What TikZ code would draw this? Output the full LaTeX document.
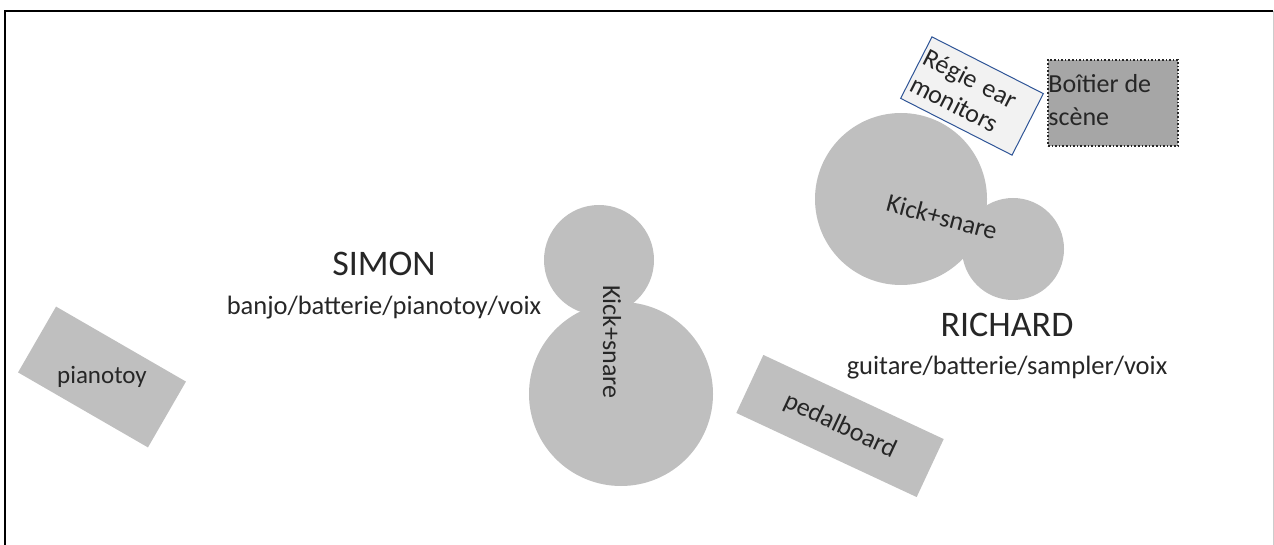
\documentclass[tikz,border=0pt]{standalone}
\usepackage{fontspec}
\setmainfont{Carlito}
\usetikzlibrary{positioning}
\definecolor{drumgrey}{HTML}{BFBFBF}
\definecolor{boxgrey}{HTML}{A6A6A6}
\definecolor{paper}{HTML}{F2F2F2}
\definecolor{edgeblue}{HTML}{2F5597}
\definecolor{ink}{HTML}{262626}
\tikzset{
    on grid,
    node distance=38pt,
    drum/.style = {
        shape=circle,
        fill=drumgrey,
        inner sep=0pt
    },
    gear/.style = {
        shape=rectangle,
        fill=drumgrey,
        inner sep=0pt
    },
    player/.style = {
        font=\fontsize{36}{42}\selectfont,
        text=ink,
        inner sep=0pt
    },
    role/.style = {
        font=\fontsize{26.5}{31}\selectfont,
        text=ink,
        inner sep=0pt
    },
    tag/.style = {
        font=\fontsize{26}{33}\selectfont,
        text=ink,
        inner sep=0pt
    },
}
\begin{document}
\begin{tikzpicture}[x=1pt, y=-1pt]
    \useasboundingbox (0,0) rectangle (1274,545);
    \coordinate (framebl) at (5,545);
    \coordinate (frametl) at (5,11);
    \coordinate (frametr) at (1273,11);
    \coordinate (framebr) at (1273,545);
    \draw[line width=2.2pt] (framebl) -- (frametl) -- (frametr);
    \draw[line width=1pt, black!20] (frametr) -- (framebr);

    % Simon
    \node[drum, minimum size=110pt] (simonsnare) at (599,260) {};
    \node[drum, minimum size=184pt] (simonkick) at (621,394) {};
    \node[tag, rotate=-90] (simonkit) at (612,342) {Kick+snare};
    \node[gear, rotate=-30, minimum width=150pt, minimum height=76pt] (pianotoy) at (102,377) {};
    \node[tag, font=\fontsize{25}{30}\selectfont] (pianotoylabel) at (pianotoy) {pianotoy};
    \node[player, anchor=base] (simon) at (384,276) {SIMON};
    \node[role, below=of simon.base, anchor=base] (simonrole) {banjo/batterie/pianotoy/voix};

    % Richard
    \node[drum, minimum size=172pt] (richardkick) at (901,199) {};
    \node[drum, minimum size=102pt] (richardsnare) at (1013,249) {};
    \node[tag, rotate=-15] (richardkit) at (942,217) {Kick+snare};
    \node[gear, rotate=-25, minimum width=199pt, minimum height=64pt, tag] (pedalboard) at (840,426) {pedalboard};
    \node[player, anchor=base] (richard) at (1007,336) {RICHARD};
    \node[role, below=of richard.base, anchor=base] (richardrole) {guitare/batterie/sampler/voix};

    % regie + boitier
    \node[draw=edgeblue, line width=1pt, fill=paper, rotate=-27, minimum width=125pt, minimum height=69pt,
          text width=119pt, align=left, inner sep=3pt, tag, font=\fontsize{26}{30}\selectfont] (regie) at (972,96) {Régie ear\\monitors};
    \node[draw=ink, dotted, line width=1.6pt, fill=boxgrey, minimum width=130pt, minimum height=86pt] (boitier) at (1113,103) {};
    \node[tag, align=left, anchor=north west, yshift=-15pt, xshift=1pt] (boitierlabel) at (boitier.north west) {Boîtier de\\scène};
\end{tikzpicture}
\end{document}
